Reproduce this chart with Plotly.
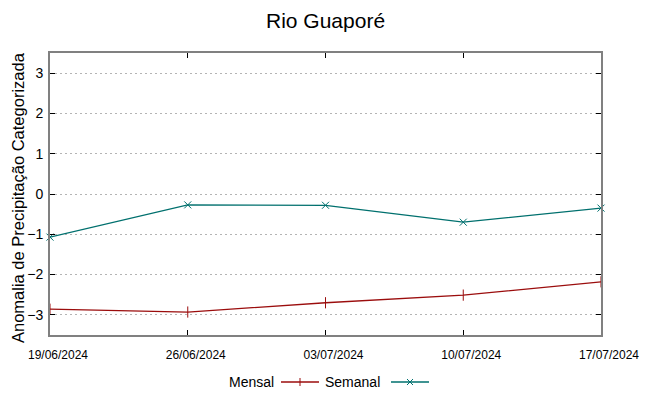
import plotly.graph_objects as go

dates = ["2024-06-19", "2024-06-26", "2024-07-03", "2024-07-10", "2024-07-17"]
tick_labels = ["19/06/2024", "26/06/2024", "03/07/2024", "10/07/2024", "17/07/2024"]
mensal = [-2.86, -2.93, -2.70, -2.51, -2.18]
semanal = [-1.07, -0.27, -0.28, -0.70, -0.35]
y_ticks = [-3, -2, -1, 0, 1, 2, 3]

RED = "#9b0d0d"
TEAL = "#00706e"
FONT = "Liberation Sans, Arial, sans-serif"

L, R, T, B = 50, 48, 53, 61
W, H = 649, 396
PW = W - L - R
PH = H - T - B


def px(x):
    return (x - L) / PW


def py(y):
    return (H - B - y) / PH


fig = go.Figure()
fig.add_trace(go.Scatter(x=dates, y=mensal, mode="lines+markers", name="Mensal",
                         line=dict(color=RED, width=1.3),
                         marker=dict(symbol="line-ns", size=8, line=dict(color=RED, width=1)),
                         showlegend=False, cliponaxis=False))
fig.add_trace(go.Scatter(x=dates, y=semanal, mode="lines+markers", name="Semanal",
                         line=dict(color=TEAL, width=1.3),
                         marker=dict(symbol="x-thin", size=7, line=dict(color=TEAL, width=1)),
                         showlegend=False, cliponaxis=False))

fig.update_layout(
    width=W, height=H,
    margin=dict(l=L, r=R, t=T, b=B, autoexpand=False),
    paper_bgcolor="white", plot_bgcolor="white",
    font=dict(family=FONT, color="#000"),
    showlegend=False,
)
fig.update_xaxes(
    range=[dates[0], dates[-1]], tickvals=dates, ticktext=tick_labels,
    ticks="inside", ticklen=5, tickcolor="#000", tickwidth=1,
    showline=True, linecolor="#808080", linewidth=2, mirror="ticks",
    showgrid=False, zeroline=False, automargin=False,
    ticklabelstandoff=8, ticklabelshift=8,
    tickfont=dict(size=12, family=FONT),
)
fig.update_yaxes(
    range=[-3.5, 3.5], tickvals=y_ticks,
    ticks="inside", ticklen=5, tickcolor="#000", tickwidth=1,
    showline=True, linecolor="#808080", linewidth=2, mirror="ticks",
    showgrid=True, gridcolor="#b4b4b4", griddash="2px,3px", gridwidth=1,
    zeroline=False, automargin=False, ticklabelstandoff=2,
    tickfont=dict(size=14, family=FONT),
)

# title
fig.add_annotation(text="Rio Guaporé", xref="paper", yref="paper", x=0.5, y=py(20),
                   xanchor="center", yanchor="middle", showarrow=False,
                   font=dict(size=21, family=FONT))
# y axis title
fig.add_annotation(text="Anomalia de Precipitação Categorizada", xref="paper", yref="paper",
                   x=px(18), y=py(198), xanchor="center", yanchor="middle", textangle=-90,
                   showarrow=False, font=dict(size=16.5, family=FONT))

# custom legend (gnuplot style: text then sample)
ly = py(382)
fig.add_annotation(text="Mensal", xref="paper", yref="paper", x=px(276), y=ly,
                   xanchor="right", yanchor="middle", showarrow=False,
                   font=dict(size=14, family=FONT))
fig.add_shape(type="line", xref="paper", yref="paper", x0=px(281), x1=px(319),
              y0=ly, y1=ly, line=dict(color=RED, width=1.3))
fig.add_shape(type="line", xref="paper", yref="paper", x0=px(300), x1=px(300),
              y0=py(378), y1=py(386), line=dict(color=RED, width=1))
fig.add_annotation(text="Semanal", xref="paper", yref="paper", x=px(382), y=ly,
                   xanchor="right", yanchor="middle", showarrow=False,
                   font=dict(size=14, family=FONT))
fig.add_shape(type="line", xref="paper", yref="paper", x0=px(391), x1=px(429),
              y0=ly, y1=ly, line=dict(color=TEAL, width=1.3))
fig.add_shape(type="line", xref="paper", yref="paper", x0=px(407), x1=px(413),
              y0=py(379), y1=py(385), line=dict(color=TEAL, width=1))
fig.add_shape(type="line", xref="paper", yref="paper", x0=px(407), x1=px(413),
              y0=py(385), y1=py(379), line=dict(color=TEAL, width=1))

fig.write_html("out.html", config={"displayModeBar": False},
               post_script="document.body.style.margin='0';document.body.style.overflow='hidden';")
